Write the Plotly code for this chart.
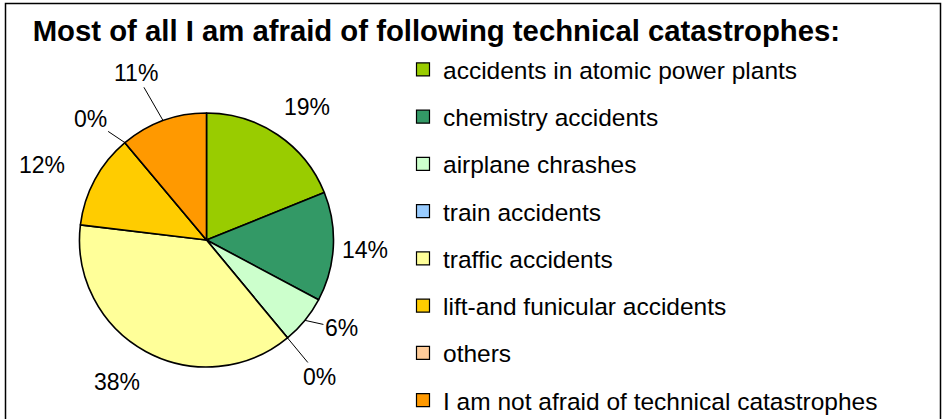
import math
import plotly.graph_objects as go

# ---- data ----
categories = [
    "accidents in atomic power plants",
    "chemistry accidents",
    "airplane chrashes",
    "train accidents",
    "traffic accidents",
    "lift-and funicular accidents",
    "others",
    "I am not afraid of technical catastrophes",
]
values = [18.9, 13.9, 6.2, 0.0, 37.9, 12.0, 0.0, 11.1]
colors = ["#99CC00", "#339966", "#CCFFCC", "#99CCFF",
          "#FFFF99", "#FFCC00", "#FFCC99", "#FF9900"]
title_text = "Most of all I am afraid of following technical catastrophes:"

# ---- layout / style ----
W, H = 942, 445          # figure is taller than the window; bottom is cropped
CX, CY, R = 206.5, 240.0, 127.0
FONT = "Arial, 'Liberation Sans', sans-serif"
label_dist = [1.31, 1.25, 1.27, 1.40, 1.32, 1.42, 1.32, 1.43]
label_shift = [3, 0.5, -6, 0, 3.5, -4, -4, -3]      # degrees
leader = [False, False, True, True, False, False, True, True]

def px2paper(x, y):
    return x / W, 1 - y / H

fig = go.Figure()
fig.add_trace(go.Pie(
    labels=categories, values=values, sort=False, direction="clockwise",
    rotation=0, marker=dict(colors=colors, line=dict(color="black", width=1.6)),
    textinfo="none", showlegend=False, hoverinfo="label+percent",
    domain=dict(x=[(CX - R) / W, (CX + R) / W],
                y=[1 - (CY + R) / H, 1 - (CY - R) / H]),
))

for i, (c, col) in enumerate(zip(categories, colors)):
    fig.add_trace(go.Scatter(
        x=[None], y=[None], mode="markers", name=c, legendgroup=str(i),
        marker=dict(symbol="square", size=13, color=col,
                    line=dict(color="black", width=1.2)),
    ))

total = sum(values)
cum = 0.0
annotations = []
for i, v in enumerate(values):
    frac = v / total
    mid = (cum + frac / 2) * 360.0
    cum += frac
    txt = f"{round(frac * 100)}%"
    a = math.radians(mid + label_shift[i])
    lx = CX + R * label_dist[i] * math.sin(a)
    ly = CY - R * label_dist[i] * math.cos(a)
    if leader[i]:
        am = math.radians(mid)
        ex = CX + R * math.sin(am)
        ey = CY - R * math.cos(am)
        x, y = px2paper(ex, ey)
        annotations.append(dict(
            x=x, y=y, xref="paper", yref="paper", text=txt,
            showarrow=True, arrowhead=0, arrowwidth=1, arrowcolor="black",
            ax=lx - ex, ay=ly - ey, standoff=0,
            font=dict(family=FONT, size=23, color="black")))
    else:
        x, y = px2paper(lx, ly)
        annotations.append(dict(
            x=x, y=y, xref="paper", yref="paper", text=txt, showarrow=False,
            xanchor="center", yanchor="middle",
            font=dict(family=FONT, size=23, color="black")))

fig.update_layout(
    width=W, height=H,
    margin=dict(l=0, r=0, t=0, b=0),
    paper_bgcolor="white", plot_bgcolor="white",
    xaxis=dict(visible=False), yaxis=dict(visible=False),
    title=dict(text="<b>" + title_text + "</b>", x=32.7 / W, xanchor="left",
               y=1 - 31 / H, yanchor="middle",
               font=dict(family=FONT, size=29.3, color="black")),
    legend=dict(x=403 / W, xanchor="left", y=1 - 47 / H, yanchor="top",
                font=dict(family=FONT, size=24.5, color="black"),
                tracegroupgap=12.4, bgcolor="rgba(0,0,0,0)"),
    annotations=annotations,
    shapes=[dict(type="rect", xref="paper", yref="paper",
                 x0=5.5 / W, x1=940.5 / W, y0=-0.05, y1=1 - 3.5 / H,
                 line=dict(color="black", width=1.5))],
)

fig.write_html("out.html",
               config={"displayModeBar": False},
               post_script="document.body.style.margin='0';"
                           "document.body.style.overflow='hidden';")
